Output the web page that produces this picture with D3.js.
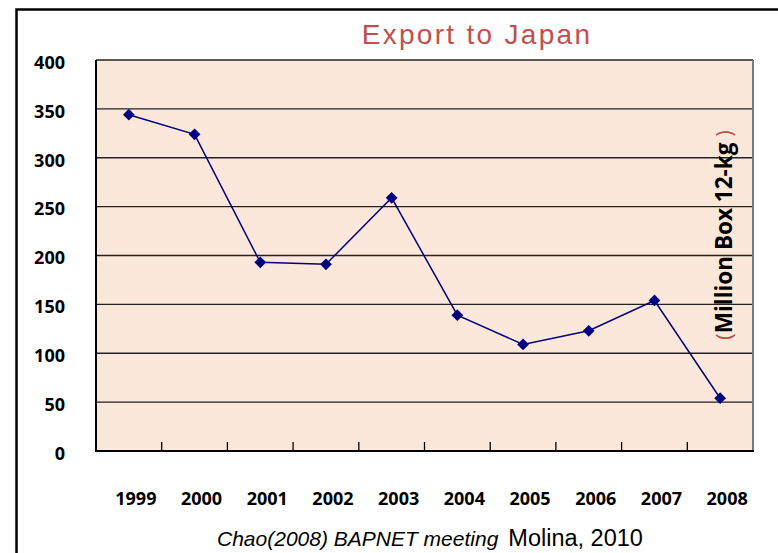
<!DOCTYPE html>
<html>
<head>
<script src="https://d3js.org/d3.v7.min.js"></script>
<style>
  body { margin: 0; background: #fff; }
  svg { display: block; }
</style>
</head>
<body>
<div id="chart"></div>
<script>
// export to Japan, million boxes of 12 kg
var years = ["1999", "2000", "2001", "2002", "2003", "2004", "2005", "2006", "2007", "2008"];
var exports = [344, 324, 193, 191, 259, 139, 109, 123, 154, 54];
var yTicks = [0, 50, 100, 150, 200, 250, 300, 350, 400];

var W = 778, H = 553;
var pLeft = 96, pRight = 753, pTop = 60, pBottom = 451;

var svg = d3.select("#chart").append("svg")
  .attr("width", W)
  .attr("height", H);

// outer frame (runs off the right/bottom edge)
svg.append("path")
  .attr("d", "M16.5," + (H + 2) + " L16.5,9.5 L" + (W + 2) + ",9.5")
  .attr("fill", "none")
  .attr("stroke", "#000")
  .attr("stroke-width", 2.5);

var x = d3.scaleBand().domain(years).range([pLeft, pRight]);
var y = d3.scaleLinear().domain([0, 400]).range([pBottom, pTop]);

svg.append("rect")
  .attr("x", pLeft).attr("y", pTop)
  .attr("width", pRight - pLeft).attr("height", pBottom - pTop)
  .attr("fill", "#fce8da");

// grid lines
svg.selectAll("line.grid").data(yTicks.filter(function(d) { return d > 0; }))
  .enter().append("line").attr("class", "grid")
  .attr("x1", pLeft).attr("x2", pRight)
  .attr("y1", function(d) { return y(d); })
  .attr("y2", function(d) { return y(d); })
  .attr("stroke", "#222")
  .attr("stroke-width", 1.3);

// right border
svg.append("line")
  .attr("x1", pRight).attr("x2", pRight).attr("y1", pTop).attr("y2", pBottom)
  .attr("stroke", "#7a7a7a").attr("stroke-width", 2);

// x tick marks at band boundaries
svg.selectAll("line.xt").data(years.slice(1))
  .enter().append("line").attr("class", "xt")
  .attr("x1", function(d) { return x(d); })
  .attr("x2", function(d) { return x(d); })
  .attr("y1", pBottom - 9).attr("y2", pBottom)
  .attr("stroke", "#000").attr("stroke-width", 1.3);

// axes lines
svg.append("line")
  .attr("x1", pLeft).attr("x2", pLeft).attr("y1", pTop).attr("y2", pBottom + 1)
  .attr("stroke", "#000").attr("stroke-width", 2);
svg.append("line")
  .attr("x1", pLeft).attr("x2", pRight + 1).attr("y1", pBottom).attr("y2", pBottom)
  .attr("stroke", "#000").attr("stroke-width", 2);

// y labels
svg.selectAll("text.yl").data(yTicks)
  .enter().append("text").attr("class", "yl")
  .attr("x", 65)
  .attr("y", function(d) { return y(d) + 4; })
  .attr("text-anchor", "end")
  .attr("dominant-baseline", "middle")
  .style("font-family", "'Open Sans', sans-serif")
  .style("font-weight", "bold")
  .style("font-size", "18px")
  .text(function(d) { return d; });

// x labels
svg.selectAll("text.xl").data(years)
  .enter().append("text").attr("class", "xl")
  .attr("x", function(d) { return x(d) + x.bandwidth() / 2 + 7; })
  .attr("y", 505)
  .attr("text-anchor", "middle")
  .style("font-family", "'Open Sans', sans-serif")
  .style("font-weight", "bold")
  .style("font-size", "18px")
  .text(function(d) { return d; });

// data line
var line = d3.line()
  .x(function(d, i) { return x(years[i]) + x.bandwidth() / 2; })
  .y(function(d) { return y(d); });

svg.append("path")
  .datum(exports)
  .attr("d", line)
  .attr("fill", "none")
  .attr("stroke", "#000080")
  .attr("stroke-width", 1.5);

svg.selectAll("path.mk").data(exports)
  .enter().append("path").attr("class", "mk")
  .attr("d", d3.symbol().type(d3.symbolDiamond2).size(88))
  .attr("transform", function(d, i) {
    return "translate(" + (x(years[i]) + x.bandwidth() / 2) + "," + y(d) + ")";
  })
  .attr("fill", "#000080");

// title
svg.append("text")
  .attr("x", 477).attr("y", 44)
  .attr("text-anchor", "middle")
  .style("font-family", "'Liberation Sans', Arial, sans-serif")
  .style("font-size", "28px")
  .style("letter-spacing", "2.3px")
  .style("fill", "#c0504d")
  .text("Export to Japan");

// rotated unit label
var unit = svg.append("text")
  .attr("transform", "translate(732,235) rotate(-90)")
  .attr("text-anchor", "middle")
  .style("font-family", "'Open Sans', sans-serif")
  .style("font-weight", "bold")
  .style("font-size", "22.5px");
unit.append("tspan").style("fill", "#c0504d").style("font-weight", "normal").text("(");
unit.append("tspan").style("fill", "#000").text("Million Box 12-kg ");
unit.append("tspan").style("fill", "#c0504d").style("font-weight", "normal").text(")");

// source footer
var src = svg.append("text")
  .attr("x", 217).attr("y", 546)
  .style("font-family", "'Liberation Sans', Arial, sans-serif");
src.append("tspan").style("font-style", "italic").style("font-size", "21px")
  .text("Chao(2008) BAPNET meeting");
src.append("tspan").attr("dx", 10).style("font-size", "23.5px")
  .text("Molina, 2010");
</script>
</body>
</html>
